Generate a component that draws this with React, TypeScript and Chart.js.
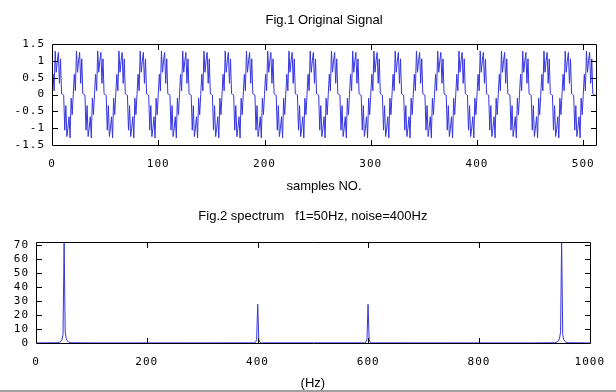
import React, { useEffect, useRef } from "react";
import { Chart, registerables } from "chart.js";

Chart.register(...registerables);

// ---------- Fig.1 data: 512 samples (period of 20 samples) ----------
const signal: number[] = [
  0,.6,.11,1.29,.66,1,1.25,.33,1.06,.02,0,-.02,-1.06,-.33,-1.25,-1,-.66,-1.29,-.11,-.6,
  0,.6,.11,1.29,.66,1,1.25,.33,1.06,.02,0,-.02,-1.06,-.33,-1.25,-1,-.66,-1.29,-.11,-.6,
  0,.6,.11,1.29,.66,1,1.25,.33,1.06,.02,0,-.02,-1.06,-.33,-1.25,-1,-.66,-1.29,-.11,-.6,
  0,.6,.11,1.29,.66,1,1.25,.33,1.06,.02,0,-.02,-1.06,-.33,-1.25,-1,-.66,-1.29,-.11,-.6,
  0,.6,.11,1.29,.66,1,1.25,.33,1.06,.02,0,-.02,-1.06,-.33,-1.25,-1,-.66,-1.29,-.11,-.6,
  0,.6,.11,1.29,.66,1,1.25,.33,1.06,.02,0,-.02,-1.06,-.33,-1.25,-1,-.66,-1.29,-.11,-.6,
  0,.6,.11,1.29,.66,1,1.25,.33,1.06,.02,0,-.02,-1.06,-.33,-1.25,-1,-.66,-1.29,-.11,-.6,
  0,.6,.11,1.29,.66,1,1.25,.33,1.06,.02,0,-.02,-1.06,-.33,-1.25,-1,-.66,-1.29,-.11,-.6,
  0,.6,.11,1.29,.66,1,1.25,.33,1.06,.02,0,-.02,-1.06,-.33,-1.25,-1,-.66,-1.29,-.11,-.6,
  0,.6,.11,1.29,.66,1,1.25,.33,1.06,.02,0,-.02,-1.06,-.33,-1.25,-1,-.66,-1.29,-.11,-.6,
  0,.6,.11,1.29,.66,1,1.25,.33,1.06,.02,0,-.02,-1.06,-.33,-1.25,-1,-.66,-1.29,-.11,-.6,
  0,.6,.11,1.29,.66,1,1.25,.33,1.06,.02,0,-.02,-1.06,-.33,-1.25,-1,-.66,-1.29,-.11,-.6,
  0,.6,.11,1.29,.66,1,1.25,.33,1.06,.02,0,-.02,-1.06,-.33,-1.25,-1,-.66,-1.29,-.11,-.6,
  0,.6,.11,1.29,.66,1,1.25,.33,1.06,.02,0,-.02,-1.06,-.33,-1.25,-1,-.66,-1.29,-.11,-.6,
  0,.6,.11,1.29,.66,1,1.25,.33,1.06,.02,0,-.02,-1.06,-.33,-1.25,-1,-.66,-1.29,-.11,-.6,
  0,.6,.11,1.29,.66,1,1.25,.33,1.06,.02,0,-.02,-1.06,-.33,-1.25,-1,-.66,-1.29,-.11,-.6,
  0,.6,.11,1.29,.66,1,1.25,.33,1.06,.02,0,-.02,-1.06,-.33,-1.25,-1,-.66,-1.29,-.11,-.6,
  0,.6,.11,1.29,.66,1,1.25,.33,1.06,.02,0,-.02,-1.06,-.33,-1.25,-1,-.66,-1.29,-.11,-.6,
  0,.6,.11,1.29,.66,1,1.25,.33,1.06,.02,0,-.02,-1.06,-.33,-1.25,-1,-.66,-1.29,-.11,-.6,
  0,.6,.11,1.29,.66,1,1.25,.33,1.06,.02,0,-.02,-1.06,-.33,-1.25,-1,-.66,-1.29,-.11,-.6,
  0,.6,.11,1.29,.66,1,1.25,.33,1.06,.02,0,-.02,-1.06,-.33,-1.25,-1,-.66,-1.29,-.11,-.6,
  0,.6,.11,1.29,.66,1,1.25,.33,1.06,.02,0,-.02,-1.06,-.33,-1.25,-1,-.66,-1.29,-.11,-.6,
  0,.6,.11,1.29,.66,1,1.25,.33,1.06,.02,0,-.02,-1.06,-.33,-1.25,-1,-.66,-1.29,-.11,-.6,
  0,.6,.11,1.29,.66,1,1.25,.33,1.06,.02,0,-.02,-1.06,-.33,-1.25,-1,-.66,-1.29,-.11,-.6,
  0,.6,.11,1.29,.66,1,1.25,.33,1.06,.02,0,-.02,-1.06,-.33,-1.25,-1,-.66,-1.29,-.11,-.6,
  0,.6,.11,1.29,.66,1,1.25,.33,1.06,.02,0,-.02,
];
const topXTicks: number[] = [0, 100, 200, 300, 400, 500];
const topYTicks: number[] = [-1.5, -1, -0.5, 0, 0.5, 1, 1.5];

// ---------- Fig.2 data: spectrum (Hz, magnitude) ----------
const specHz: number[] = [
  0, 39, 43, 45, 46.9, 48.8, 50.8, 52.7, 54.7, 56.6, 58.6, 63, 100,
  394, 396.5, 398.4, 400.4, 402.3, 404.3, 406,
  594, 595.7, 597.7, 599.6, 601.6, 603.5, 606,
  900, 937, 941.4, 943.4, 945.3, 947.3, 949.2, 951.2, 953.1, 955, 957, 961, 1000,
];
const specMag: number[] = [
  0.05, 0.2, 0.6, 1.2, 2.4, 6, 72.2, 8, 3, 1.5, 0.7, 0.2, 0.05,
  0.1, 0.5, 2.5, 27.6, 2.5, 0.5, 0.1,
  0.1, 0.5, 2.5, 27.6, 2.5, 0.5, 0.1,
  0.05, 0.2, 0.7, 1.5, 3, 8, 72.2, 6, 2.4, 1.2, 0.6, 0.2, 0.05,
];
const botXTicks: number[] = [0, 200, 400, 600, 800, 1000];
const botYTicks: number[] = [0, 10, 20, 30, 40, 50, 60, 70];

const LINE_COLOR = "#3535e0";
const TICK_FONT = { family: "'DejaVu Sans Mono', monospace", size: 11 };
const TEXT_FONT = "13px 'Liberation Sans', Arial, sans-serif";

const framePlugin = {
  id: "frame",
  beforeDraw(chart: any) {
    chart.ctx.letterSpacing = "1px";
  },
  afterDraw(chart: any, _args: any, opts: any) {
    const { ctx, chartArea: a, scales } = chart;
    ctx.save();
    ctx.letterSpacing = "0px";
    const L = Math.round(a.left), R = Math.round(a.right);
    const T = Math.round(a.top), B = Math.round(a.bottom);
    ctx.strokeStyle = "#000";
    ctx.lineWidth = 1;
    ctx.beginPath();
    ctx.rect(L + 0.5, T + 0.5, R - L, B - T);
    const tl = 5;
    for (const t of scales.x.ticks) {
      const px = Math.round(scales.x.getPixelForValue(t.value)) + 0.5;
      ctx.moveTo(px, B);
      ctx.lineTo(px, B - tl);
      ctx.moveTo(px, T + 1);
      ctx.lineTo(px, T + 1 + tl);
    }
    for (const t of scales.y.ticks) {
      const py = Math.round(scales.y.getPixelForValue(t.value)) + 0.5;
      ctx.moveTo(L + 1, py);
      ctx.lineTo(L + 1 + tl, py);
      ctx.moveTo(R, py);
      ctx.lineTo(R - tl, py);
    }
    ctx.stroke();
    ctx.fillStyle = "#000";
    ctx.font = TEXT_FONT;
    ctx.textAlign = "center";
    ctx.textBaseline = "middle";
    const cx = (a.left + a.right) / 2;
    ctx.fillText(opts.title, cx, opts.titleY);
    ctx.fillText(opts.xlabel, cx, opts.xlabelY);
    ctx.restore();
  },
};

function makeOptions(cfg: {
  xMin: number; xMax: number; yMin: number; yMax: number;
  xTicks: number[]; yTicks: number[];
  left: number; top: number; right: number; bottomH: number;
  title: string; titleY: number; xlabel: string; xlabelY: number;
}): any {
  return {
    responsive: false,
    animation: false,
    events: [],
    layout: { padding: { left: 0, top: cfg.top, right: cfg.right, bottom: 0 } },
    plugins: {
      legend: { display: false },
      tooltip: { enabled: false },
      title: { display: false },
      frame: { title: cfg.title, titleY: cfg.titleY, xlabel: cfg.xlabel, xlabelY: cfg.xlabelY },
    },
    elements: { point: { radius: 0 }, line: { tension: 0 } },
    scales: {
      x: {
        type: "linear",
        min: cfg.xMin,
        max: cfg.xMax,
        grid: { display: false, drawTicks: false },
        border: { display: false },
        afterBuildTicks: (s: any) => { s.ticks = cfg.xTicks.map((v) => ({ value: v })); },
        afterFit: (s: any) => { s.height = cfg.bottomH; },
        ticks: { color: "#000", font: TICK_FONT, padding: 13, maxRotation: 0, autoSkip: false, callback: (v: any) => String(v) },
      },
      y: {
        type: "linear",
        min: cfg.yMin,
        max: cfg.yMax,
        grid: { display: false, drawTicks: false },
        border: { display: false },
        afterBuildTicks: (s: any) => { s.ticks = cfg.yTicks.map((v) => ({ value: v })); },
        afterFit: (s: any) => { s.width = cfg.left; },
        ticks: { color: "#000", font: TICK_FONT, padding: 7, autoSkip: false, callback: (v: any) => String(v) },
      },
    },
  };
}

export default function App() {
  const topRef = useRef<HTMLCanvasElement>(null);
  const botRef = useRef<HTMLCanvasElement>(null);

  useEffect(() => {
    const topChart = new Chart(topRef.current!, {
      type: "line",
      data: {
        datasets: [{
          data: signal.map((v, i) => ({ x: i, y: v })),
          borderColor: LINE_COLOR,
          borderWidth: 1,
          pointRadius: 0,
          fill: false,
        }],
      },
      options: makeOptions({
        xMin: 0, xMax: 512, yMin: -1.5, yMax: 1.5,
        xTicks: topXTicks, yTicks: topYTicks,
        left: 52, top: 44, right: 20, bottomH: 51,
        title: "Fig.1 Original Signal", titleY: 20,
        xlabel: "samples NO.", xlabelY: 186,
      }),
      plugins: [framePlugin],
    } as any);

    const botChart = new Chart(botRef.current!, {
      type: "line",
      data: {
        datasets: [{
          data: specHz.map((h, i) => ({ x: h, y: specMag[i] })),
          borderColor: LINE_COLOR,
          borderWidth: 1,
          pointRadius: 0,
          fill: false,
        }],
      },
      options: makeOptions({
        xMin: 0, xMax: 1000, yMin: 0, yMax: 72.2,
        xTicks: botXTicks, yTicks: botYTicks,
        left: 36, top: 46, right: 19, bottomH: 49,
        title: "Fig.2 spectrum   f1=50Hz, noise=400Hz", titleY: 20,
        xlabel: "(Hz)", xlabelY: 187,
      }),
      plugins: [framePlugin],
    } as any);

    return () => {
      topChart.destroy();
      botChart.destroy();
    };
  }, []);

  return (
    <div style={{ position: "fixed", left: 0, top: 0, width: 616, height: 392, background: "#fff", overflow: "hidden" }}>
      <canvas ref={topRef} width={616} height={196} style={{ position: "absolute", left: 0, top: 0, width: 616, height: 196 }} />
      <canvas ref={botRef} width={616} height={196} style={{ position: "absolute", left: 0, top: 196, width: 616, height: 196 }} />
      <div style={{ position: "absolute", left: 0, top: 390, width: 616, height: 2, background: "#a0a0a0" }} />
    </div>
  );
}
